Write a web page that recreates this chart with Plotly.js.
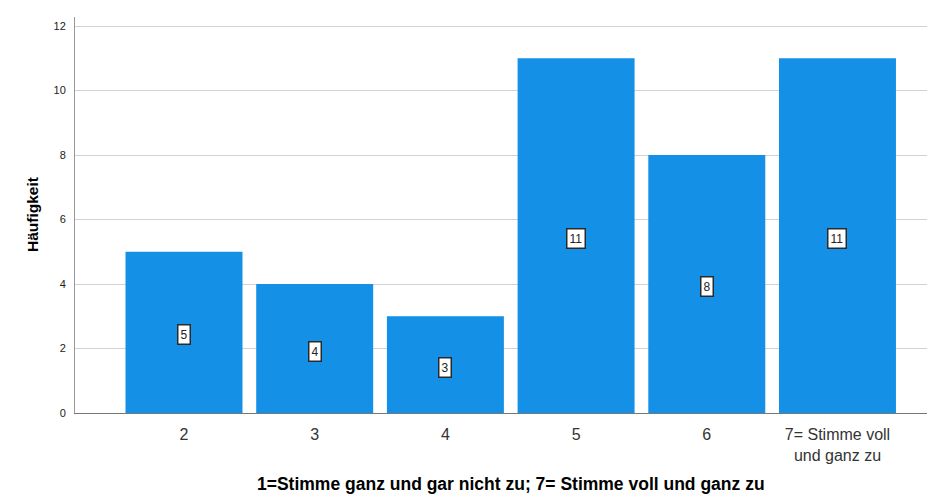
<!DOCTYPE html>
<html>
<head>
<meta charset="utf-8">
<script src="https://cdn.plot.ly/plotly-3.0.1.min.js"></script>
<style>html,body{margin:0;padding:0;background:#fff;}#chart{width:930px;height:495px;}</style>
</head>
<body>
<div id="chart"></div>
<script>
var categories = ["2", "3", "4", "5", "6", "7= Stimme voll<br>und ganz zu"];
var counts = [5, 4, 3, 11, 8, 11];
var yTicks = [0, 2, 4, 6, 8, 10, 12];
var xTitle = "1=Stimme ganz und gar nicht zu; 7= Stimme voll und ganz zu";
var yTitle = "Häufigkeit";

var xs = categories.map(function (c, i) { return i; });
var FONT = "Arial, Liberation Sans, sans-serif";

var trace = {
  type: "bar",
  x: xs,
  y: counts,
  width: 0.895,
  marker: { color: "#1490E6", line: { width: 0 } },
  hoverinfo: "none"
};

var annotations = counts.map(function (v, i) {
  return {
    x: i, y: v / 2, xref: "x", yref: "y", yshift: -2.5,
    text: String(v), showarrow: false,
    font: { family: FONT, size: 12, color: "#222" },
    bgcolor: "#ffffff", bordercolor: "#2a2a2a", borderwidth: 1.5, borderpad: 2
  };
});
annotations.push({
  xref: "paper", yref: "paper", x: (32 - 75) / 852, y: (413 - 215) / 396,
  xanchor: "center", yanchor: "middle",
  text: "<b>" + yTitle + "</b>", textangle: -90, showarrow: false,
  font: { family: FONT, size: 15.5, color: "#000" }
});
annotations.push({
  xref: "paper", yref: "paper", x: (511 - 75) / 852, y: (413 - 484) / 396,
  xanchor: "center", yanchor: "middle",
  text: "<b>" + xTitle + "</b>", showarrow: false,
  font: { family: FONT, size: 17.5, color: "#000" }
});

var layout = {
  width: 930, height: 495,
  margin: { l: 75, r: 3, t: 17, b: 82 },
  paper_bgcolor: "#fff", plot_bgcolor: "#fff",
  showlegend: false,
  xaxis: {
    range: [-0.834, 5.685],
    tickvals: xs, ticktext: categories,
    showgrid: false, zeroline: false,
    showline: true, linecolor: "#777", linewidth: 1,
    ticks: "", ticklabelstandoff: 7,
    tickfont: { family: FONT, size: 16, color: "#333" }
  },
  yaxis: {
    range: [0, 12.28],
    tickvals: yTicks,
    showgrid: true, gridcolor: "#d2d2d2", gridwidth: 1,
    zeroline: false, showline: true, linecolor: "#999", linewidth: 1,
    ticks: "", ticklabelstandoff: 6,
    tickfont: { family: FONT, size: 11, color: "#222" }
  },
  annotations: annotations
};

Plotly.newPlot("chart", [trace], layout, { displayModeBar: false, staticPlot: true });
</script>
</body>
</html>
